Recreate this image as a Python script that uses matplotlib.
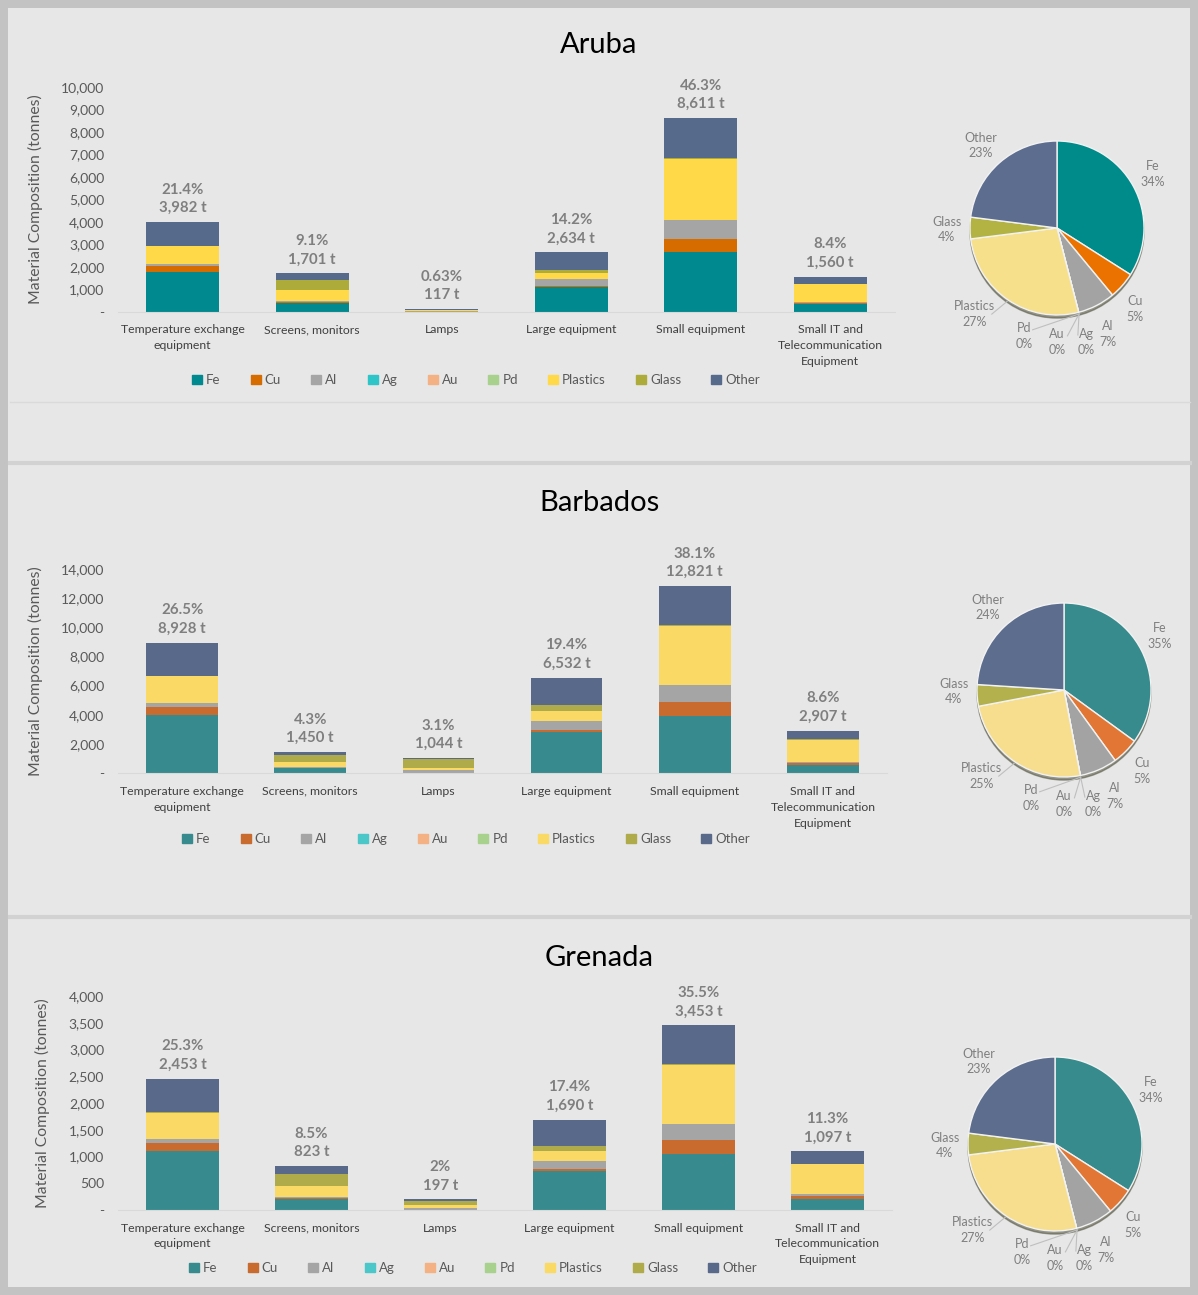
import matplotlib
matplotlib.use('Agg')
import matplotlib.pyplot as plt
from matplotlib.patches import Rectangle, Patch, Circle
import numpy as np

plt.rcParams['font.family'] = ['Lato', 'DejaVu Sans']

# categories and materials
categories = ['Temperature exchange\nequipment', 'Screens, monitors', 'Lamps',
              'Large equipment', 'Small equipment',
              'Small IT and\nTelecommunication\nEquipment']
materials = ['Fe', 'Cu', 'Al', 'Ag', 'Au', 'Pd', 'Plastics', 'Glass', 'Other']

# tonnes per material (rows follow `materials`, columns follow `categories`)
aruba_t = [
    [1780, 400, 3, 1100, 2660, 330],
    [230, 30, 2, 45, 565, 50],
    [100, 50, 15, 290, 830, 40],
    [0, 0, 0, 0, 0, 0],
    [0, 0, 0, 0, 0, 0],
    [0, 0, 0, 0, 0, 0],
    [800, 490, 45, 300, 2735, 790],
    [20, 440, 25, 120, 20, 10],
    [1052, 291, 27, 779, 1801, 340],
]
barbados_t = [
    [4000, 330, 20, 2820, 3930, 600],
    [520, 30, 10, 140, 920, 110],
    [270, 60, 200, 626, 1170, 80],
    [0, 0, 0, 0, 0, 0],
    [0, 0, 0, 0, 0, 0],
    [0, 0, 0, 0, 0, 0],
    [1850, 350, 130, 674, 4090, 1520],
    [20, 470, 600, 396, 20, 10],
    [2268, 210, 84, 1876, 2691, 587],
]
grenada_t = [
    [1100, 210, 2, 720, 1055, 213],
    [145, 20, 1, 38, 250, 50],
    [75, 10, 40, 155, 306, 30],
    [0, 0, 0, 0, 0, 0],
    [0, 0, 0, 0, 0, 0],
    [0, 0, 0, 0, 0, 0],
    [500, 215, 42, 182, 1106, 565],
    [5, 213, 80, 95, 10, 5],
    [628, 155, 32, 500, 726, 234],
]

# share of each category in the country total (as printed)
aruba_pct = ['21.4%', '9.1%', '0.63%', '14.2%', '46.3%', '8.4%']
barbados_pct = ['26.5%', '4.3%', '3.1%', '19.4%', '38.1%', '8.6%']
grenada_pct = ['25.3%', '8.5%', '2%', '17.4%', '35.5%', '11.3%']

# pie shares (%) in `materials` order
aruba_pie = [34, 5, 7, 0, 0, 0, 27, 4, 23]
barbados_pie = [35, 5, 7, 0, 0, 0, 25, 4, 24]
grenada_pie = [34, 5, 7, 0, 0, 0, 27, 4, 23]

# colours
bar_col_a = ['#00898e', '#d66b00', '#a5a5a5', '#2ec5c9', '#f4b183', '#a9d18e',
             '#ffd947', '#adac3a', '#566a8b']
bar_col_b = ['#378b8e', '#c96b2e', '#a5a5a5', '#4bc7c9', '#f4b183', '#a9d18e',
             '#fad964', '#afab4b', '#58698a']
pie_col_a = ['#008b8b', '#ec7200', '#a3a3a3', '#2ec5c9', '#f4b183', '#a9d18e',
             '#f7e08c', '#b3b343', '#5c6d8f']
pie_col_b = ['#388b8d', '#e27634', '#a3a3a3', '#4bc7c9', '#f4b183', '#a9d18e',
             '#f6de8e', '#b3b14d', '#5d6d8e']

W, H = 1198, 1295


def fx(px):
    return px / W


def fy(py):
    return 1 - py / H


fig = plt.figure(figsize=(W / 100, H / 100), dpi=100)
fig.patch.set_facecolor('#c3c3c3')
fig.add_artist(Rectangle((fx(8), fy(1287)), fx(W - 16), (H - 16) / H,
                         transform=fig.transFigure, fc='#e7e7e7', ec='none', zorder=-5))
for yy, lw, c in [(402, 1, '#dadada'), (463, 3, '#d2d2d2'), (917, 3, '#d2d2d2')]:
    fig.add_artist(plt.Line2D([fx(10), fx(1190)], [fy(yy), fy(yy)], lw=lw, color=c,
                              transform=fig.transFigure, zorder=-4))

# label positions around the pie (pie radius units)
pie_lbl = {'Other': (-0.88, 0.95), 'Fe': (1.10, 0.62), 'Glass': (-1.27, -0.02),
           'Plastics': (-0.95, -0.99), 'Pd': (-0.38, -1.24), 'Au': (0.0, -1.31),
           'Ag': (0.34, -1.31), 'Al': (0.58, -1.22), 'Cu': (0.90, -0.93)}
leader_from = {'Plastics': (0.2, 0.0), 'Pd': (0.1, 0.07), 'Au': (0.12, 0.07),
               'Ag': (-0.1, 0.08)}

panels = [
    # name, data, pct, ymax, step, pie, title_y, axes box (l, r, y0px, ytop px), legend, pie centre, colours
    ('Aruba', aruba_t, aruba_pct, 10000, 1000, aruba_pie, 45,
     (118, 895, 311.7, 86.7), (476, 380), (1057, 228), bar_col_a, pie_col_a, 43),
    ('Barbados', barbados_t, barbados_pct, 14000, 2000, barbados_pie, 503,
     (118, 887, 773.3, 568.7), (466, 839), (1064, 690), bar_col_b, pie_col_b, 43),
    ('Grenada', grenada_t, grenada_pct, 4000, 500, grenada_pie, 958,
     (118, 892, 1210, 996), (473, 1268), (1055, 1144), bar_col_b, pie_col_b, 50),
]

for (name, data, pct, ymax, step, pie, ty, box, leg, pc, bcol, pcol, ylx) in panels:
    fig.text(0.5, fy(ty), name, ha='center', va='center', fontsize=21, color='#000000')

    l, r, y0, y1 = box
    ax = fig.add_axes([fx(l), fy(y0), fx(r - l), (y0 - y1) / H])
    ax.set_facecolor('none')
    x = np.arange(len(categories))
    bottom = np.zeros(len(categories))
    for vals, mat, c in zip(data, materials, bcol):
        vals = np.array(vals, dtype=float)
        ax.bar(x, vals, 0.56, bottom=bottom, color=c, label=mat, edgecolor='none')
        bottom += vals
    for xi, tot, p in zip(x, bottom, pct):
        ax.annotate(f'{p}\n{tot:,.0f} t', (xi, tot), xytext=(0, 5),
                    textcoords='offset points', ha='center', va='bottom',
                    fontsize=10.8, fontweight='bold', color='#7f7f7f', linespacing=1.4)
    ax.set_xlim(-0.5, len(categories) - 0.5)
    ax.set_ylim(0, ymax)
    ticks = np.arange(0, ymax + 1, step)
    ax.set_yticks(ticks)
    ax.set_yticklabels(['-' if t == 0 else f'{t:,.0f}' for t in ticks])
    ax.set_xticks(x)
    ax.set_xticklabels(categories, fontsize=8.8, color='#404040', linespacing=1.55)
    ax.tick_params(axis='y', length=0, labelsize=10, labelcolor='#595959', pad=10)
    ax.tick_params(axis='x', length=0, pad=9)
    for s in ['top', 'right', 'left']:
        ax.spines[s].set_visible(False)
    ax.spines['bottom'].set_color('#d9d9d9')
    ax.set_ylabel('Material Composition (tonnes)', fontsize=11.3, color='#595959')
    ax.yaxis.set_label_coords((ylx - l) / (r - l), 0.5)

    handles = [Patch(color=c) for c in bcol]
    fig.legend(handles, materials, loc='center', bbox_to_anchor=(fx(leg[0]), fy(leg[1])),
               ncol=9, frameon=False, handlelength=0.75, handleheight=0.75,
               handletextpad=0.3, columnspacing=2.3, fontsize=9.5, labelcolor='#595959')

    # pie
    rad = 87
    pax = fig.add_axes([fx(pc[0] - 1.5 * rad), fy(pc[1] + 1.5 * rad), fx(3 * rad), 3 * rad / H])
    pax.add_patch(Circle((0.0, -0.035), 1.0, color='#5a5a48', alpha=0.6, zorder=0))
    wedges, _ = pax.pie(pie, colors=pcol, startangle=90, counterclock=False,
                        radius=1.0, center=(0, 0),
                        wedgeprops=dict(edgecolor='#f2f2f2', linewidth=1.0))
    pax.set_xlim(-1.5, 1.5)
    pax.set_ylim(-1.5, 1.5)
    pax.set_aspect('equal')
    pax.axis('off')
    for w, mat, s in zip(wedges, materials, pie):
        lx, ly = pie_lbl[mat]
        pax.text(lx, ly, f'{mat}\n{s}%', ha='center', va='center', fontsize=9,
                 color='#7f7f7f', linespacing=1.35)
        if mat in leader_from:
            ang = np.deg2rad((w.theta1 + w.theta2) / 2)
            ex, ey = np.cos(ang) * 1.02, np.sin(ang) * 1.02
            dx, dy = leader_from[mat]
            pax.plot([lx + dx, ex], [ly + dy, ey], color='#bfbfbf', lw=0.8)

fig.savefig('out.png', dpi=100, facecolor=fig.get_facecolor())
